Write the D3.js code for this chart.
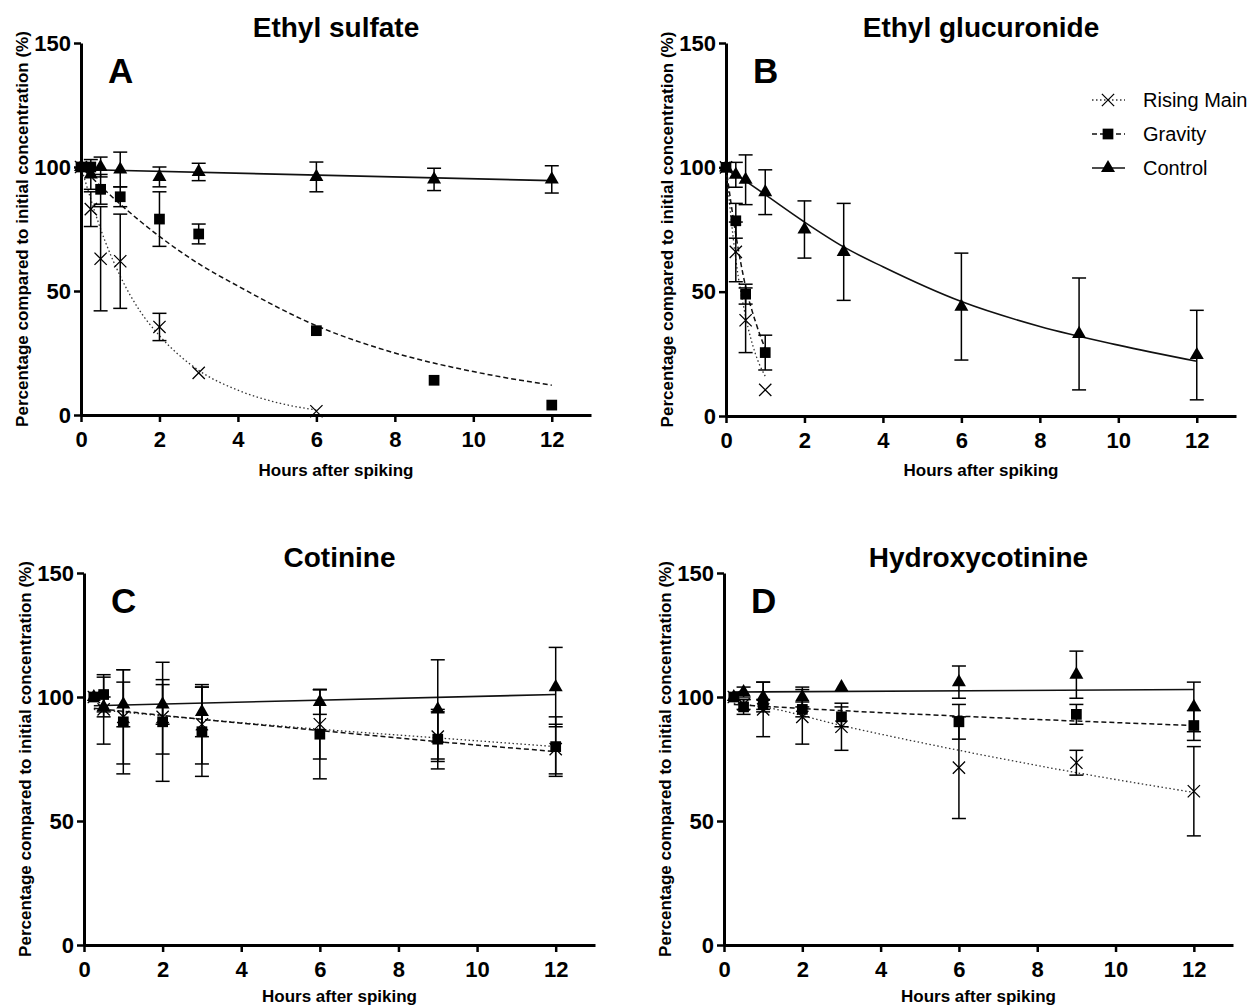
<!DOCTYPE html>
<html>
<head>
<meta charset="utf-8">
<script src="https://cdn.jsdelivr.net/npm/d3@7"></script>
<style>
  body { margin: 0; background: #fff; }
  text { font-family: "Liberation Sans", Arial, sans-serif; }
</style>
</head>
<body>
<div id="chart-area"></div>
<script>
// rows are [hours, mean %, error]
var esRising  = [[0,100,0],[0.25,83,7],[0.5,63,21],[1,62,19],[2,35.5,5.5],[3,17,0],[6,1.5,0]];
var esGravity = [[0,100,0],[0.25,100,0],[0.5,91,6],[1,88,4],[2,79,11],[3,73,4],[6,34,0],[9,14,0],[12,4,0]];
var esControl = [[0,100,0],[0.25,97,6],[0.5,100,4],[1,99,7],[2,96,4],[3,98,3.5],[6,96,6],[9,95,4.5],[12,95,5.5]];
var esRisingFit  = [[0,100],[0.25,87],[0.5,75],[1,56],[1.5,42],[2,32],[3,18],[4,10],[5,5],[6,2]];
var esGravityFit = [[0,100],[1,85],[2,72],[3,61],[4,52],[6,36],[8,25],[10,17.5],[12,12]];
var esControlFit = [[0,99],[12,94.5]];

var egRising  = [[0,100,0],[0.25,66,12],[0.5,38.5,13],[1,10.5,0]];
var egGravity = [[0,100,0],[0.25,78.5,7],[0.5,49,4],[1,25.5,7]];
var egControl = [[0,100,0],[0.25,97,5],[0.5,95,10],[1,90,9],[2,75,11.5],[3,66,19.5],[6,44,21.5],[9,33,22.5],[12,24.5,18]];
var egRisingFit  = [[0,100],[0.25,63],[0.5,40],[0.75,25],[1,16]];
var egGravityFit = [[0,100],[0.25,73],[0.5,52],[0.75,38],[1,27]];
var egControlFit = [[0,100],[1,89],[2,78],[3,68],[4,60],[6,46],[8,36],[10,28.5],[12,22]];

var cotRising  = [[0.25,100,0],[0.5,95,14],[1,92,19],[2,92,15],[3,89,16],[6,89,14],[9,84,10],[12,79,10]];
var cotGravity = [[0.25,100,0],[0.5,101,7],[1,90,21],[2,90,24],[3,86,18],[6,85,18],[9,83,12],[12,80,12]];
var cotControl = [[0.25,100,0],[0.5,96,4],[1,97,9],[2,97,8],[3,94,10],[6,98,5],[9,95,20],[12,104,16]];
var cotRisingFit  = [[0.25,95],[3,91],[6,87],[9,83.5],[12,80]];
var cotGravityFit = [[0.25,95.5],[3,91],[6,86.5],[9,82],[12,78]];
var cotControlFit = [[0.25,96.5],[12,101]];

var hcRising  = [[0.25,100,0],[0.5,97,2],[1,95,11],[2,92,11],[3,88,9.5],[6,71.5,20.5],[9,73.5,5],[12,62,18]];
var hcGravity = [[0.25,100,0],[0.5,96,3],[1,97,2],[2,95,3],[3,92,4],[6,90,7],[9,93,4],[12,88.5,6]];
var hcControl = [[0.25,100,0],[0.5,102,2],[1,100,6],[2,100,4],[3,104,0],[6,106,6.5],[9,109,9.5],[12,96,10]];
var hcRisingFit  = [[0.25,97.5],[1,96],[3,88.5],[6,78.5],[9,69.5],[12,61.5]];
var hcGravityFit = [[0.25,97],[3,94.5],[6,92.3],[9,90.3],[12,88.5]];
var hcControlFit = [[0.25,102],[12,103]];

var hourTicks = [0, 2, 4, 6, 8, 10, 12];
var pctTicks = [0, 50, 100, 150];
var seriesNames = ["Rising Main", "Gravity", "Control"];

var panels = [
    { title: "Ethyl sulfate", letter: "A", left: 81, right: 591, top: 43, bottom: 415, labelGap: 61,
      data: [esRising, esGravity, esControl], fits: [esRisingFit, esGravityFit, esControlFit] },
    { title: "Ethyl glucuronide", letter: "B", left: 726, right: 1236, top: 43, bottom: 416, labelGap: 60, legend: true,
      data: [egRising, egGravity, egControl], fits: [egRisingFit, egGravityFit, egControlFit] },
    { title: "Cotinine", letter: "C", left: 84, right: 595, top: 573, bottom: 945, labelGap: 57,
      data: [cotRising, cotGravity, cotControl], fits: [cotRisingFit, cotGravityFit, cotControlFit] },
    { title: "Hydroxycotinine", letter: "D", left: 724, right: 1233, top: 573, bottom: 945, labelGap: 57,
      data: [hcRising, hcGravity, hcControl], fits: [hcRisingFit, hcGravityFit, hcControlFit] }
];

// line style per series: dotted, dashed, solid
var lineDash = ["1.5,2.5", "5,3", null];
var lineWidth = [1.3, 1.5, 1.6];
var lineColor = ["#333", "#111", "#111"];

var crossType = {
    draw: function(ctx, size) {
        var r = Math.sqrt(size) / 2;
        ctx.moveTo(-r, -r); ctx.lineTo(r, r);
        ctx.moveTo(r, -r); ctx.lineTo(-r, r);
    }
};
var symbols = [
    d3.symbol().type(crossType).size(150),
    d3.symbol().type(d3.symbolSquare).size(115),
    d3.symbol().type(d3.symbolTriangle).size(85)
];

var svg = d3.select("#chart-area")
    .append("svg")
        .attr("width", 1253)
        .attr("height", 1007);

function drawMarker(sel, i) {
    var m = sel.append("path").attr("d", symbols[i]());
    if (i === 0) {
        m.attr("fill", "none").attr("stroke", "#000").attr("stroke-width", 1.3);
    } else {
        m.attr("fill", "#000");
    }
    return m;
}

panels.forEach(function(p) {
    var x = d3.scaleLinear().domain([0, 13]).range([p.left, p.right]);
    var y = d3.scaleLinear().domain([0, 150]).range([p.bottom, p.top]);
    var g = svg.append("g");
    var cx = (p.left + p.right) / 2;

    // X Axis
    var xAxis = g.append("g")
        .attr("transform", "translate(0," + p.bottom + ")")
        .call(d3.axisBottom(x).tickValues(hourTicks).tickSize(7).tickSizeOuter(0).tickPadding(9));
    // Y Axis
    var yAxis = g.append("g")
        .attr("transform", "translate(" + p.left + ",0)")
        .call(d3.axisLeft(y).tickValues(pctTicks).tickSize(7).tickSizeOuter(0).tickPadding(3));

    [xAxis, yAxis].forEach(function(a) {
        a.attr("font-size", 22).attr("font-weight", "bold")
         .attr("font-family", "'Liberation Sans', Arial, sans-serif");
        a.select(".domain").attr("stroke", "#000").attr("stroke-width", 3);
        a.selectAll(".tick line").attr("stroke", "#000").attr("stroke-width", 2.5);
        a.selectAll(".tick text").attr("fill", "#000");
    });

    // Labels
    g.append("text")
        .attr("x", cx).attr("y", p.top - 6)
        .attr("text-anchor", "middle")
        .attr("font-size", "28px").attr("font-weight", "bold")
        .text(p.title);
    g.append("text")
        .attr("x", p.left + 27).attr("y", p.top + 40)
        .attr("font-size", "35px").attr("font-weight", "bold")
        .text(p.letter);
    g.append("text")
        .attr("x", cx).attr("y", p.bottom + p.labelGap)
        .attr("text-anchor", "middle")
        .attr("font-size", "17px").attr("font-weight", "bold")
        .text("Hours after spiking");
    g.append("text")
        .attr("transform", "rotate(-90)")
        .attr("x", -(p.top + p.bottom) / 2)
        .attr("y", p.left - 53)
        .attr("text-anchor", "middle")
        .attr("font-size", "17px").attr("font-weight", "bold")
        .text("Percentage compared to initial concentration (%)");

    // fitted curves
    var line = d3.line()
        .x(function(d) { return x(d[0]); })
        .y(function(d) { return y(d[1]); })
        .curve(d3.curveMonotoneX);
    p.fits.forEach(function(f, i) {
        g.append("path")
            .attr("d", line(f))
            .attr("fill", "none")
            .attr("stroke", lineColor[i])
            .attr("stroke-width", lineWidth[i])
            .attr("stroke-dasharray", lineDash[i]);
    });

    // error bars
    p.data.forEach(function(series) {
        series.filter(function(d) { return d[2] > 0; }).forEach(function(d) {
            var px = x(d[0]), lo = y(d[1] - d[2]), hi = y(d[1] + d[2]);
            var bar = g.append("g").attr("stroke", "#000").attr("stroke-width", 1.5);
            bar.append("line").attr("x1", px).attr("x2", px).attr("y1", lo).attr("y2", hi);
            bar.append("line").attr("x1", px - 7).attr("x2", px + 7).attr("y1", lo).attr("y2", lo);
            bar.append("line").attr("x1", px - 7).attr("x2", px + 7).attr("y1", hi).attr("y2", hi);
        });
    });

    // markers
    p.data.forEach(function(series, i) {
        series.forEach(function(d) {
            drawMarker(g, i).attr("transform", "translate(" + x(d[0]) + "," + y(d[1]) + ")");
        });
    });

    if (p.legend) {
        var legend = g.append("g");
        seriesNames.forEach(function(name, i) {
            var ry = 100 + i * 34;
            legend.append("line")
                .attr("x1", 1092).attr("x2", 1125).attr("y1", ry).attr("y2", ry)
                .attr("stroke", lineColor[i])
                .attr("stroke-width", lineWidth[i])
                .attr("stroke-dasharray", lineDash[i]);
            drawMarker(legend, i).attr("transform", "translate(1108," + ry + ")");
            legend.append("text")
                .attr("x", 1143).attr("y", ry + 7)
                .attr("font-size", "20px")
                .text(name);
        });
    }
});
</script>
</body>
</html>
